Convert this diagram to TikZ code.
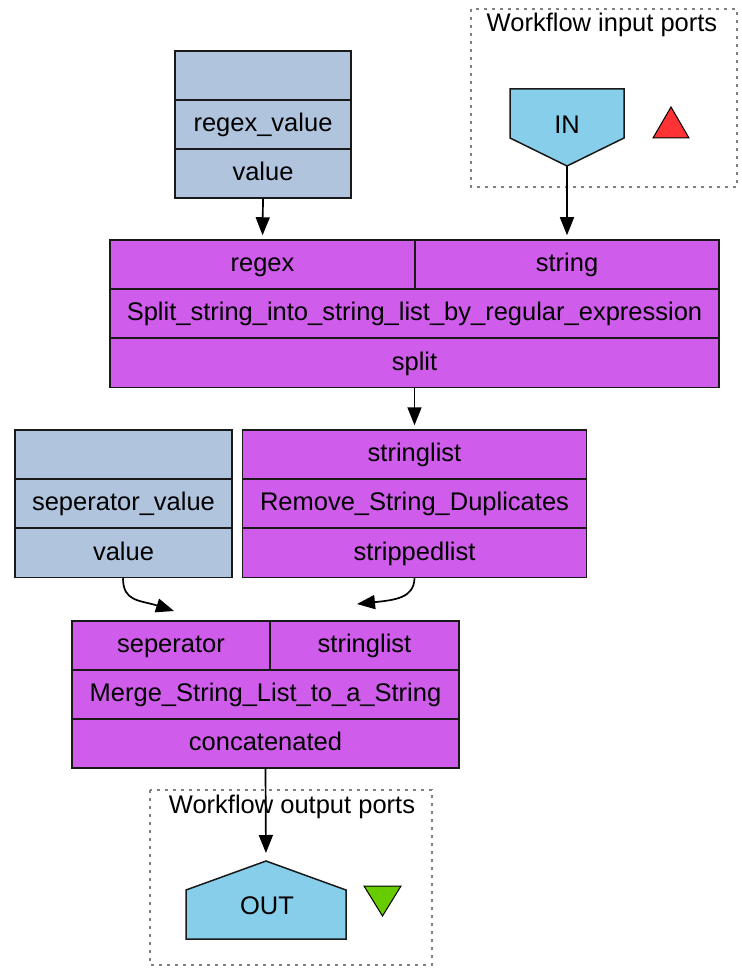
\documentclass[tikz,border=0pt]{standalone}
\usepackage{fontspec}
\setmainfont{Liberation Sans}
\usetikzlibrary{arrows.meta}
\definecolor{valblue}{RGB}{176,196,222}
\definecolor{procpink}{RGB}{207,92,234}
\definecolor{portblue}{RGB}{135,206,235}
\definecolor{inred}{RGB}{255,51,51}
\definecolor{outgreen}{RGB}{102,204,0}

\begin{document}
\begin{tikzpicture}[x=1pt,y=-1pt,
	cell/.style={draw=black!90, line width=1.5pt, inner sep=0pt, minimum height=49pt, text height=19pt, text depth=4.5pt, font=\fontsize{25.5}{26}\selectfont},
	val/.style={cell, fill=valblue},
	proc/.style={cell, fill=procpink},
	flow/.style={-{Triangle[length=18pt,width=14pt]}, line width=1.7pt, shorten >=4pt},
	portgroup/.style={draw=gray, dash pattern=on 3pt off 5pt, line width=1.3pt},
	port/.style={draw=black!90, line width=1.5pt, fill=portblue},
	lbl/.style={inner sep=0pt, font=\fontsize{25.5}{26}\selectfont}]
	\useasboundingbox (0,0) rectangle (741,973);

	% Workflow input ports
	\draw[portgroup] (471,9) rectangle (737,187);
	\node[lbl] (inlbl) at (602,25) {Workflow input ports};
	\draw[port] (510,89) -- (624,89) -- (624,138) -- (567,166) -- (510,138) -- cycle;
	\node[lbl] (in) at (567,125) {IN};
	\coordinate (intip) at (567,166);
	\draw[fill=inred, line width=1pt] (653,138) -- (689,138) -- (671,107) -- cycle;

	% regex value
	\node[val, minimum width=176pt] (rv1) at (263,75.5) {};
	\node[val, minimum width=176pt] (rv2) at (263,124.5) {regex\_value};
	\node[val, minimum width=176pt] (rv3) at (263,173.5) {value};

	% split
	\node[proc, minimum width=305pt] (sp1) at (262.5,264.5) {regex};
	\node[proc, minimum width=304pt] (sp2) at (567,264.5) {string};
	\node[proc, minimum width=609pt] (sp3) at (414.5,313.5) {Split\_string\_into\_string\_list\_by\_regular\_expression};
	\node[proc, minimum width=609pt] (sp4) at (414.5,363) {split};

	% seperator value
	\node[val, minimum width=217pt] (sv1) at (123.5,454.5) {};
	\node[val, minimum width=217pt] (sv2) at (123.5,503.5) {seperator\_value};
	\node[val, minimum width=217pt] (sv3) at (123.5,553) {value};

	% remove duplicates
	\node[proc, minimum width=344pt] (rm1) at (414.5,454.5) {stringlist};
	\node[proc, minimum width=344pt] (rm2) at (414.5,503.5) {Remove\_String\_Duplicates};
	\node[proc, minimum width=344pt] (rm3) at (414.5,553) {strippedlist};

	% merge
	\node[proc, minimum width=198pt] (mg1) at (171,645.5) {seperator};
	\node[proc, minimum width=189pt] (mg2) at (364.5,645.5) {stringlist};
	\node[proc, minimum width=387pt] (mg3) at (265.5,694.5) {Merge\_String\_List\_to\_a\_String};
	\node[proc, minimum width=387pt] (mg4) at (265.5,743.5) {concatenated};

	% Workflow output ports
	\draw[portgroup] (150,790) rectangle (432,965);
	\node[lbl] (outlbl) at (292,807) {Workflow output ports};
	\draw[port] (266,861) -- (346,890) -- (346,939) -- (186,939) -- (186,890) -- cycle;
	\node[lbl] (out) at (267,906) {OUT};
	\coordinate (outtip) at (266,861);
	\draw[fill=outgreen, line width=1pt] (364,886) -- (401,886) -- (382.5,916) -- cycle;

	% links
	\coordinate (septip) at (174,611);
	\coordinate (listtip) at (357,604);
	\draw[flow] (rv3.south) -- (sp1.north);
	\draw[flow] (intip) -- (sp2.north);
	\draw[flow] (sp4.south) -- (rm1.north);
	\draw[flow, shorten >=0pt] (sv3.south -| 123,0) .. controls (123,602) and (140,600) .. (septip);
	\draw[flow, shorten >=0pt] (rm3.south) .. controls (414,598) and (395,600) .. (listtip);
	\draw[flow, shorten >=8pt] (mg4.south) -- (outtip);
\end{tikzpicture}
\end{document}
